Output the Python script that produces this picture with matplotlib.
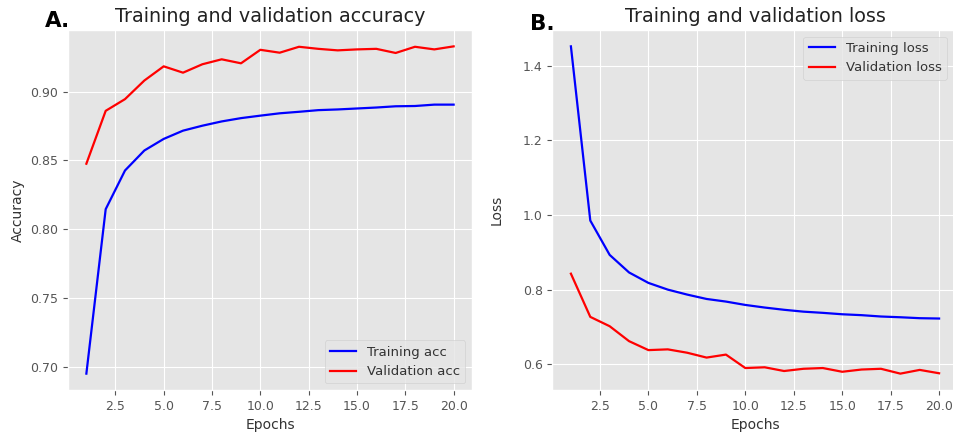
import matplotlib
matplotlib.use("Agg")
import matplotlib.pyplot as plt

plt.style.use("ggplot")

epochs = list(range(1, 21))
train_acc = [0.6952, 0.8146, 0.8427, 0.8572, 0.8656, 0.8716, 0.8752, 0.8783, 0.8807, 0.8825,
             0.8842, 0.8853, 0.8865, 0.8870, 0.8877, 0.8884, 0.8893, 0.8895, 0.8905, 0.8905]
val_acc = [0.8476, 0.8860, 0.8945, 0.9080, 0.9183, 0.9137, 0.9198, 0.9234, 0.9205, 0.9303,
           0.9282, 0.9325, 0.9310, 0.9299, 0.9306, 0.9310, 0.9280, 0.9325, 0.9306, 0.9328]
train_loss = [1.4515, 0.9850, 0.8930, 0.8460, 0.8180, 0.8000, 0.7867, 0.7750, 0.7680, 0.7590,
              0.7520, 0.7460, 0.7410, 0.7378, 0.7340, 0.7316, 0.7280, 0.7260, 0.7235, 0.7226]
val_loss = [0.8427, 0.7270, 0.7020, 0.6620, 0.6380, 0.6400, 0.6310, 0.6180, 0.6260, 0.5900,
            0.5920, 0.5820, 0.5880, 0.5900, 0.5800, 0.5860, 0.5880, 0.5750, 0.5850, 0.5760]

fig = plt.figure(figsize=(9.54, 4.32), dpi=100)
W, H = 954, 432
ax1 = fig.add_axes([68 / W, 1 - 390 / H, (472 - 68) / W, 360 / H])
ax2 = fig.add_axes([552.5 / W, 1 - 390 / H, (957.5 - 552.5) / W, 360 / H])

tick_fs = 9
label_fs = 10
title_fs = 13.8

ax1.plot(epochs, train_acc, color="b", lw=1.6, label="Training acc")
ax1.plot(epochs, val_acc, color="r", lw=1.6, label="Validation acc")
ax1.set_title("Training and validation accuracy", fontsize=title_fs, color="#222222")
ax1.set_xlabel("Epochs", fontsize=label_fs, color="#333333")
ax1.set_ylabel("Accuracy", fontsize=label_fs, color="#333333")
ax1.legend(loc="lower right", fontsize=9.5)

ax2.plot(epochs, train_loss, color="b", lw=1.6, label="Training loss")
ax2.plot(epochs, val_loss, color="r", lw=1.6, label="Validation loss")
ax2.set_title("Training and validation loss", fontsize=title_fs, color="#222222")
ax2.set_xlabel("Epochs", fontsize=label_fs, color="#333333")
ax2.set_ylabel("Loss", fontsize=label_fs, color="#333333", labelpad=14)
ax2.legend(loc="upper right", fontsize=9.5, bbox_to_anchor=(0.99, 1.0))

for ax in (ax1, ax2):
    ax.tick_params(labelsize=tick_fs)
    for t in ax.get_legend().get_texts():
        t.set_color("#333333")

fig.text(45 / W, 1 - 21 / H, "A.", fontsize=15.5, fontweight="bold", va="center", ha="left", color="black")
fig.text(530 / W, 1 - 24 / H, "B.", fontsize=15.5, fontweight="bold", va="center", ha="left", color="black")

fig.savefig("out.png", dpi=100)
